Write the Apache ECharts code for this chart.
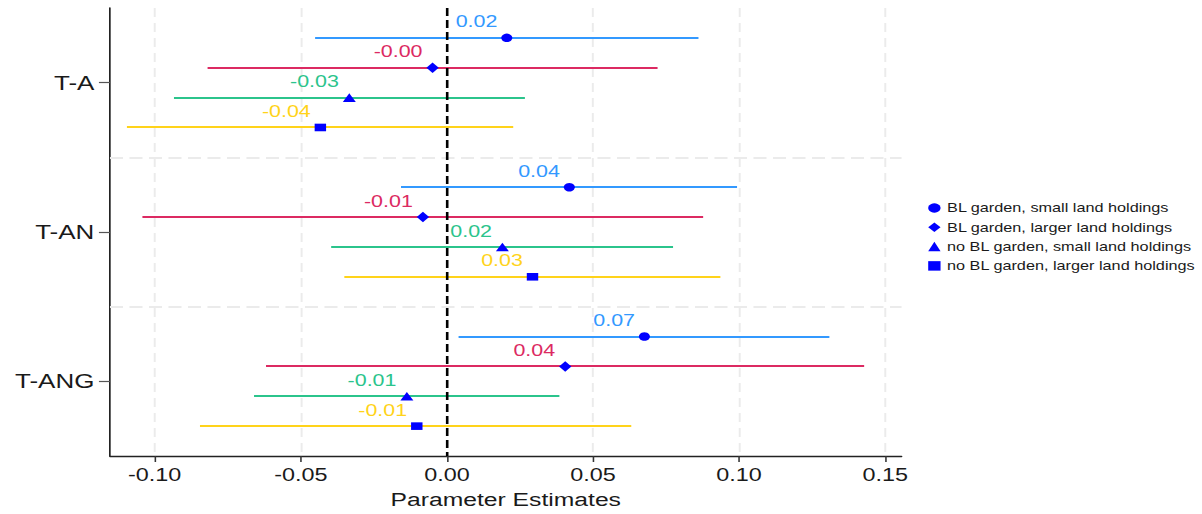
<!DOCTYPE html>
<html>
<head>
<meta charset="utf-8">
<script src="https://cdn.jsdelivr.net/npm/echarts@6/dist/echarts.min.js"></script>
<style>
html, body { margin: 0; padding: 0; background: #fff; overflow: hidden; }
/* the reference is stretched horizontally, so draw narrower and widen it */
#chart { width: 925px; height: 514px; transform: scaleX(1.3); transform-origin: 0 0; }
</style>
</head>
<body>
<div id="chart"></div>
<script>
var categories = ['T-A', 'T-AN', 'T-ANG'];
var seriesNames = [
	'BL garden, small land holdings',
	'BL garden, larger land holdings',
	'no BL garden, small land holdings',
	'no BL garden, larger land holdings'
];
// one row per series, one column per category
var estimates = [
	[0.0205, 0.0419, 0.0676],
	[-0.0049, -0.0082, 0.0405],
	[-0.0334, 0.0190, -0.0137],
	[-0.0433, 0.0293, -0.0103]
];
var lowerCI = [
	[-0.0451, -0.0157, 0.0040],
	[-0.0819, -0.1042, -0.0619],
	[-0.0934, -0.0396, -0.0660],
	[-0.1095, -0.0351, -0.0845]
];
var upperCI = [
	[0.0861, 0.0993, 0.1309],
	[0.0721, 0.0877, 0.1428],
	[0.0267, 0.0774, 0.0385],
	[0.0227, 0.0936, 0.0631]
];
var xTicks = [-0.10, -0.05, 0.00, 0.05, 0.10, 0.15];
var rowOffsets = [-0.3, -0.1, 0.1, 0.3];

var lineColors = ['#3399ff', '#dc2a62', '#2bc48c', '#ffd31a'];
var symbols = ['circle', 'diamond', 'triangle', 'rect'];
var symbolSizes = [[8.5, 8.5], [9.5, 10.5], [10, 8.6], [8.8, 7.6]];
var font = '"Liberation Sans", Arial, sans-serif';

var chart = echarts.init(document.getElementById('chart'), null, {renderer: 'svg'});

var series = [];
// grid lines and zero line
var gridLines = [];
xTicks.forEach(function(t){
	if (t !== 0) gridLines.push({xAxis: t, lineStyle: {color: '#ebebeb', width: 1.5, type: [9, 6]}});
});
gridLines.push({yAxis: 1.5, lineStyle: {color: '#ebebeb', width: 2, type: [10, 5]}});
gridLines.push({yAxis: 2.5, lineStyle: {color: '#ebebeb', width: 2, type: [10, 5]}});

seriesNames.forEach(function(name, s){
	var ciData = [];
	var ptData = [];
	categories.forEach(function(c, g){
		var y = g + 1 + rowOffsets[s];
		ciData.push([lowerCI[s][g], upperCI[s][g], y]);
		ptData.push([estimates[s][g], y]);
	});
	var ci = {
		type: 'custom',
		name: name + ' CI',
		z: 2,
		data: ciData,
		encode: {x: [0, 1], y: 2},
		renderItem: function(params, api){
			var p1 = api.coord([api.value(0), api.value(2)]);
			var p2 = api.coord([api.value(1), api.value(2)]);
			var yy = Math.round(p1[1]);
			return {
				type: 'line',
				shape: {x1: p1[0], y1: yy, x2: p2[0], y2: yy},
				style: {stroke: lineColors[s], lineWidth: 2}
			};
		}
	};
	if (s === 0) {
		ci.markLine = {
			silent: true, symbol: 'none', z: 1, animation: false,
			label: {show: false}, data: gridLines
		};
	}
	if (s === 1) {
		ci.markLine = {
			silent: true, symbol: 'none', z: 3, animation: false,
			label: {show: false},
			data: [{xAxis: 0, lineStyle: {color: '#000', width: 2, type: [8, 4]}}]
		};
	}
	series.push(ci);
	series.push({
		type: 'scatter',
		name: name,
		z: 4,
		symbol: symbols[s],
		symbolSize: symbolSizes[s],
		itemStyle: {color: '#0000ff', opacity: 1},
		data: ptData,
		label: {
			show: true,
			position: 'left',
			distance: 3,
			offset: [0, -16],
			color: lineColors[s],
			fontFamily: font,
			fontSize: 16.5,
			formatter: function(p){ return p.value[0].toFixed(2); }
		}
	});
});

var option = {
	animation: false,
	backgroundColor: '#fff',
	grid: {left: 84.6, right: 231.5, top: 8, bottom: 58},
	legend: {
		orient: 'vertical',
		left: 709,
		top: 196,
		itemWidth: 9.5,
		itemHeight: 9.5,
		itemGap: 5.3,
		selectedMode: false,
		data: seriesNames.map(function(n, i){ return {name: n, icon: symbols[i]}; }),
		itemStyle: {opacity: 1},
		textStyle: {fontFamily: font, fontSize: 12.5, lineHeight: 14, color: '#1a1a1a'}
	},
	xAxis: {
		type: 'value',
		min: -0.1153,
		max: 0.1556,
		name: 'Parameter Estimates',
		nameLocation: 'middle',
		nameGap: 34,
		nameTextStyle: {fontFamily: font, fontSize: 19, color: '#1a1a1a'},
		axisLine: {show: true, onZero: false, lineStyle: {color: '#222', width: 1.3}},
		axisTick: {show: true, length: 6, customValues: xTicks, lineStyle: {color: '#333', width: 1.2}},
		axisLabel: {
			customValues: xTicks, margin: 10,
			fontFamily: font, fontSize: 18, color: '#1a1a1a',
			formatter: function(v){ return v.toFixed(2); }
		},
		splitLine: {show: false}
	},
	yAxis: {
		type: 'value',
		inverse: true,
		min: 0.5,
		max: 3.5,
		axisLine: {show: true, onZero: false, lineStyle: {color: '#222', width: 1.3}},
		axisTick: {show: true, length: 8.5, customValues: [1, 2, 3], lineStyle: {color: '#555', width: 1.2}},
		axisLabel: {
			customValues: [1, 2, 3], margin: 12,
			fontFamily: font, fontSize: 20, color: '#1a1a1a',
			formatter: function(v){ return categories[Math.round(v) - 1] || ''; }
		},
		splitLine: {show: false}
	},
	series: series
};
chart.setOption(option);
</script>
</body>
</html>
